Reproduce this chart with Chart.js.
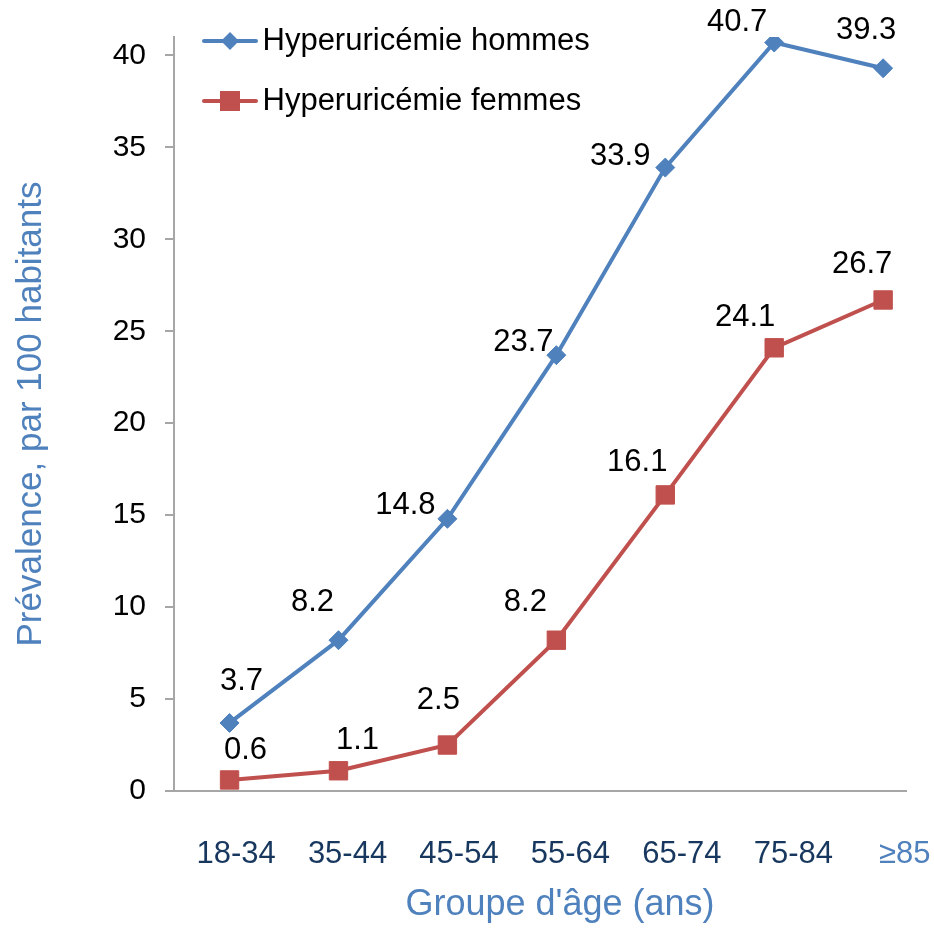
<!DOCTYPE html>
<html lang="fr">
<head>
<meta charset="utf-8">
<title>Hyperuricémie par groupe d'âge</title>
<script src="https://cdn.jsdelivr.net/npm/chart.js@4.4.1/dist/chart.umd.min.js"></script>
<style>
  html, body { margin: 0; padding: 0; background: #ffffff; }
  #wrap { width: 934px; height: 928px; }
</style>
</head>
<body>
<div id="wrap"><canvas id="chart" width="934" height="928"></canvas></div>
<script>
// Age groups and prevalence per 100 inhabitants
const categories = ['18-34', '35-44', '45-54', '55-64', '65-74', '75-84', '≥85'];
const hommes = [3.7, 8.2, 14.8, 23.7, 33.9, 40.7, 39.3];
const femmes = [0.6, 1.1, 2.5, 8.2, 16.1, 24.1, 26.7];
const yTickValues = [0, 5, 10, 15, 20, 25, 30, 35, 40];
const seriesNames = ['Hyperuricémie hommes', 'Hyperuricémie femmes'];

// Placement of each value label relative to its marker (dx, dy in px)
const labelOffsetsHommes = [[12, -42], [-26, -38], [-42, -13], [-33, -13], [-45, -11], [-37, -20], [-17, -38]];
const labelOffsetsFemmes = [[16, -30], [19, -30], [-9, -45], [-31, -38], [-28, -32], [-29, -30], [-21, -36]];

const BLUE = '#4f81bd';
const RED = '#c0504d';
const AXIS_GREY = '#a6a6a6';
const TITLE_BLUE = '#4f81bd';
const NAVY = '#17375e';
const FONT = "'Liberation Sans', Arial, Helvetica, sans-serif";

Chart.defaults.font.family = FONT;
Chart.defaults.color = '#000000';

// Legend swatches: a line segment with the series marker in the middle
function makeSwatch(color, shape) {
  const c = document.createElement('canvas');
  c.width = 56; c.height = 24;
  const g = c.getContext('2d');
  g.strokeStyle = color;
  g.lineWidth = 4;
  g.lineCap = 'round';
  g.beginPath(); g.moveTo(2, 12); g.lineTo(54, 12); g.stroke();
  g.fillStyle = color;
  g.beginPath();
  if (shape === 'diamond') {
    g.moveTo(28 - 9, 12); g.lineTo(28, 12 - 9); g.lineTo(28 + 9, 12); g.lineTo(28, 12 + 9);
  } else {
    g.rect(28 - 10, 2, 20, 20);
  }
  g.closePath(); g.fill();
  return c;
}
const swatches = [makeSwatch(BLUE, 'diamond'), makeSwatch(RED, 'square')];

// Value labels next to each marker
const valueLabels = {
  id: 'valueLabels',
  afterDatasetsDraw(chart) {
    const ctx = chart.ctx;
    const offsets = [labelOffsetsHommes, labelOffsetsFemmes];
    const values = [hommes, femmes];
    ctx.save();
    ctx.font = '31px ' + FONT;
    ctx.fillStyle = '#000000';
    ctx.textAlign = 'center';
    ctx.textBaseline = 'middle';
    chart.data.datasets.forEach((ds, di) => {
      const meta = chart.getDatasetMeta(di);
      meta.data.forEach((pt, i) => {
        const [dx, dy] = offsets[di][i];
        ctx.fillText(values[di][i].toFixed(1), pt.x + dx, pt.y + dy);
      });
    });
    ctx.restore();
  }
};

// Legend in the upper-left corner of the plot, one series per row;
// the category-axis title sits a little right of the plot centre
const layoutTweaks = {
  id: 'layoutTweaks',
  afterLayout(chart) {
    const lg = chart.legend;
    if (lg) {
      lg.left = 184;
      lg.right = 906;
      lg.top = -3.5;
      lg.bottom = lg.top + lg.height;
    }
    const xl = chart.scales.xLabels;
    if (xl) {
      xl.left += 20;
      xl.right += 20;
    }
  }
};

new Chart(document.getElementById('chart'), {
  type: 'line',
  data: {
    datasets: [
      {
        label: seriesNames[0],
        data: hommes.map((v, i) => ({ x: i, y: v })),
        borderColor: BLUE,
        backgroundColor: BLUE,
        borderWidth: 4,
        pointStyle: 'rectRot',
        pointRadius: 9.5,
        pointBorderWidth: 1,
        pointBackgroundColor: BLUE,
        pointBorderColor: BLUE,
        tension: 0,
        xAxisID: 'x',
        yAxisID: 'y'
      },
      {
        label: seriesNames[1],
        data: femmes.map((v, i) => ({ x: i, y: v })),
        borderColor: RED,
        backgroundColor: RED,
        borderWidth: 4,
        pointStyle: 'rect',
        pointRadius: 13,
        pointBorderWidth: 1,
        pointBackgroundColor: RED,
        pointBorderColor: RED,
        tension: 0,
        xAxisID: 'x',
        yAxisID: 'y'
      }
    ]
  },
  options: {
    responsive: false,
    animation: false,
    devicePixelRatio: 1,
    layout: { padding: { top: 37, right: 28, bottom: 0, left: 0 } },
    plugins: {
      tooltip: { enabled: false },
      legend: {
        position: 'chartArea',
        align: 'start',
        labels: {
          usePointStyle: true,
          pointStyleWidth: 34,
          padding: 29,
          color: '#000000',
          font: { size: 31 },
          generateLabels(chart) {
            return Chart.defaults.plugins.legend.labels.generateLabels(chart)
              .map((item, i) => Object.assign(item, { pointStyle: swatches[i] }));
          }
        }
      }
    },
    scales: {
      x: {
        type: 'linear',
        position: 'bottom',
        weight: 0,
        min: -0.51,
        max: 6.21,
        grid: { display: false },
        ticks: { display: false },
        border: { display: true, color: AXIS_GREY, width: 2 },
        afterFit(scale) { scale.height = 0; }
      },
      xLabels: {
        type: 'linear',
        position: 'bottom',
        axis: 'x',
        weight: 1,
        min: -0.557,
        max: 6.011,
        afterBuildTicks(scale) { scale.ticks = categories.map((c, i) => ({ value: i })); },
        // invisible tick marks only push the category labels down
        grid: {
          display: true,
          drawOnChartArea: false,
          drawTicks: true,
          tickLength: 45,
          color: 'rgba(0,0,0,0)'
        },
        border: { display: false },
        ticks: {
          autoSkip: false,
          maxRotation: 0,
          padding: 0,
          font: { size: 31 },
          color: (ctx) => ctx.index === categories.length - 1 ? BLUE : NAVY,
          callback: (value) => categories[value]
        },
        title: {
          display: true,
          text: "Groupe d'âge (ans)",
          color: TITLE_BLUE,
          font: { size: 36 },
          padding: { top: 0, bottom: 1 }
        },
        afterFit(scale) { scale.height = 137; }
      },
      y: {
        type: 'linear',
        position: 'left',
        min: 0,
        max: 41,
        afterBuildTicks(scale) { scale.ticks = yTickValues.map(v => ({ value: v })); },
        grid: {
          display: true,
          drawOnChartArea: false,
          drawTicks: true,
          tickLength: 9,
          color: AXIS_GREY,
          lineWidth: 2
        },
        border: { display: true, color: AXIS_GREY, width: 2 },
        ticks: {
          padding: 19,
          color: '#000000',
          font: { size: 30 },
          callback: (value) => String(value)
        },
        title: {
          display: true,
          text: 'Prévalence, par 100 habitants',
          color: TITLE_BLUE,
          font: { size: 35 },
          padding: { top: 10, bottom: 0 }
        },
        afterFit(scale) { scale.width = 174; }
      }
    }
  },
  plugins: [valueLabels, layoutTweaks]
});
</script>
</body>
</html>
